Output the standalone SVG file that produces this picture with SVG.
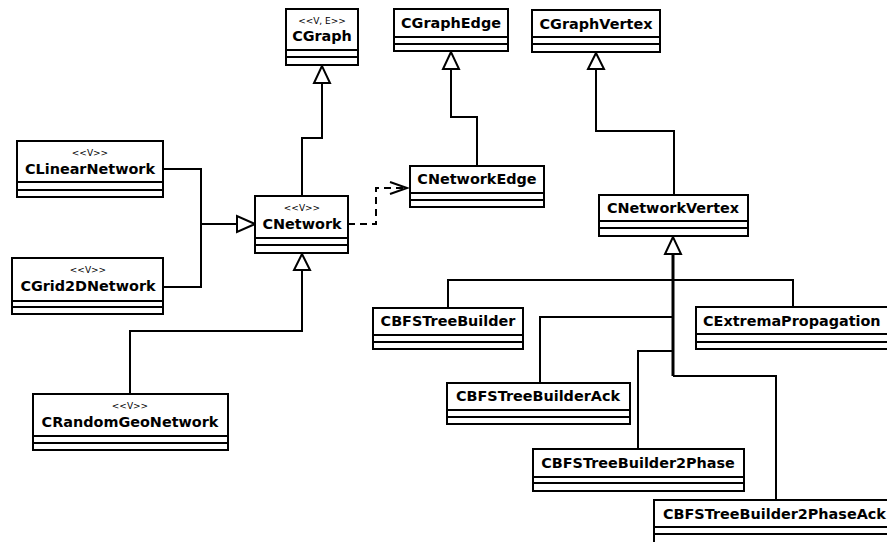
<svg xmlns="http://www.w3.org/2000/svg" width="887" height="542" viewBox="0 0 887 542">
<style>
.box{fill:#fff;stroke:#000;stroke-width:2}
.sep{stroke:#000;stroke-width:2}
.name{font-family:"DejaVu Sans",sans-serif;font-weight:bold;font-size:14.4px;text-anchor:middle;fill:#000}
.st{font-family:"DejaVu Sans",sans-serif;font-size:9px;text-anchor:middle;fill:#000}
.ln{fill:none;stroke:#000;stroke-width:2}
.dash{fill:none;stroke:#000;stroke-width:2;stroke-dasharray:7,5}
.tri{fill:#fff;stroke:#000;stroke-width:2;stroke-linejoin:miter}
</style>
<rect width="887" height="542" fill="#fff"/>
<g id="connectors">
<path class="ln" d="M302,196 V138 H322 V83"/>
<polygon class="tri" points="322,66 314,83 330,83"/>
<path class="ln" d="M477,166 V117 H451 V69"/>
<polygon class="tri" points="451,52 443,69 459,69"/>
<path class="ln" d="M674,195 V131 H596 V69"/>
<polygon class="tri" points="596,53 588,69 604,69"/>
<path class="ln" d="M163,169 H201 V224 H237"/>
<path class="ln" d="M163,287 H201 V224"/>
<polygon class="tri" points="255,224 237,216 237,232"/>
<path class="ln" d="M130,394 V331 H302 V270"/>
<polygon class="tri" points="302,254 294,270 310,270"/>
<path class="dash" d="M348,224 H376 V188 H407"/>
<path class="ln" d="M390,182 L407,188 L390,194"/>
<path class="ln" d="M448,308 V280 H673 V254"/>
<path class="ln" d="M793,307 V280 H673"/>
<path class="ln" d="M540,383 V317 H673"/>
<path class="ln" d="M638,449 V351 H673"/>
<path class="ln" d="M776,500 V376 H673"/>
<path fill="none" stroke="#000" stroke-width="3" d="M673,254 V376"/>
<polygon class="tri" points="673,237 665,254 681,254"/>
</g>
<g id="CGraph">
<rect class="box" x="286" y="9" width="72" height="56"/>
<line class="sep" x1="286" y1="50" x2="358" y2="50"/><line class="sep" x1="286" y1="57" x2="358" y2="57"/>
<text class="st" x="322" y="24">&lt;&lt;V, E&gt;&gt;</text>
<text class="name" x="322" y="41">CGraph</text>
</g>
<g id="CGraphEdge">
<rect class="box" x="394" y="9" width="114" height="42"/>
<line class="sep" x1="394" y1="37" x2="508" y2="37"/><line class="sep" x1="394" y1="44" x2="508" y2="44"/>
<text class="name" x="451" y="28">CGraphEdge</text>
</g>
<g id="CGraphVertex">
<rect class="box" x="532" y="10" width="128" height="42"/>
<line class="sep" x1="532" y1="37" x2="660" y2="37"/><line class="sep" x1="532" y1="44" x2="660" y2="44"/>
<text class="name" x="596" y="29">CGraphVertex</text>
</g>
<g id="CLinearNetwork">
<rect class="box" x="17" y="141" width="146" height="56"/>
<line class="sep" x1="17" y1="182" x2="163" y2="182"/><line class="sep" x1="17" y1="190" x2="163" y2="190"/>
<text class="st" x="90" y="156">&lt;&lt;V&gt;&gt;</text>
<text class="name" x="90" y="174">CLinearNetwork</text>
</g>
<g id="CGrid2DNetwork">
<rect class="box" x="12" y="258" width="151" height="56"/>
<line class="sep" x1="12" y1="301" x2="163" y2="301"/><line class="sep" x1="12" y1="307" x2="163" y2="307"/>
<text class="st" x="88" y="273">&lt;&lt;V&gt;&gt;</text>
<text class="name" x="88" y="291">CGrid2DNetwork</text>
</g>
<g id="CNetwork">
<rect class="box" x="255" y="196" width="93" height="57"/>
<line class="sep" x1="255" y1="238" x2="348" y2="238"/><line class="sep" x1="255" y1="245" x2="348" y2="245"/>
<text class="st" x="302" y="211">&lt;&lt;V&gt;&gt;</text>
<text class="name" x="302" y="229">CNetwork</text>
</g>
<g id="CRandomGeoNetwork">
<rect class="box" x="33" y="394" width="195" height="56"/>
<line class="sep" x1="33" y1="436" x2="228" y2="436"/><line class="sep" x1="33" y1="443" x2="228" y2="443"/>
<text class="st" x="130" y="409">&lt;&lt;V&gt;&gt;</text>
<text class="name" x="130" y="427">CRandomGeoNetwork</text>
</g>
<g id="CNetworkEdge">
<rect class="box" x="410" y="166" width="134" height="41"/>
<line class="sep" x1="410" y1="193" x2="544" y2="193"/><line class="sep" x1="410" y1="200" x2="544" y2="200"/>
<text class="name" x="477" y="184">CNetworkEdge</text>
</g>
<g id="CNetworkVertex">
<rect class="box" x="599" y="195" width="149" height="41"/>
<line class="sep" x1="599" y1="221" x2="748" y2="221"/><line class="sep" x1="599" y1="228" x2="748" y2="228"/>
<text class="name" x="673" y="213">CNetworkVertex</text>
</g>
<g id="CBFSTreeBuilder">
<rect class="box" x="373" y="308" width="150" height="41"/>
<line class="sep" x1="373" y1="335" x2="523" y2="335"/><line class="sep" x1="373" y1="342" x2="523" y2="342"/>
<text class="name" x="448" y="326">CBFSTreeBuilder</text>
</g>
<g id="CExtremaPropagation">
<rect class="box" x="696" y="307" width="200" height="42"/>
<line class="sep" x1="696" y1="334" x2="896" y2="334"/><line class="sep" x1="696" y1="342" x2="896" y2="342"/>
<text class="name" x="703" y="326" style="text-anchor:start">CExtremaPropagation</text>
</g>
<g id="CBFSTreeBuilderAck">
<rect class="box" x="447" y="383" width="183" height="41"/>
<line class="sep" x1="447" y1="410" x2="630" y2="410"/><line class="sep" x1="447" y1="417" x2="630" y2="417"/>
<text class="name" x="538" y="401">CBFSTreeBuilderAck</text>
</g>
<g id="CBFSTreeBuilder2Phase">
<rect class="box" x="533" y="449" width="211" height="42"/>
<line class="sep" x1="533" y1="477" x2="744" y2="477"/><line class="sep" x1="533" y1="483" x2="744" y2="483"/>
<text class="name" x="638" y="468">CBFSTreeBuilder2Phase</text>
</g>
<g id="CBFSTreeBuilder2PhaseAck">
<rect class="box" x="654" y="500" width="250" height="44"/>
<line class="sep" x1="654" y1="527" x2="904" y2="527"/><line class="sep" x1="654" y1="534" x2="904" y2="534"/>
<text class="name" x="663" y="519" style="text-anchor:start">CBFSTreeBuilder2PhaseAck</text>
</g>
</svg>
